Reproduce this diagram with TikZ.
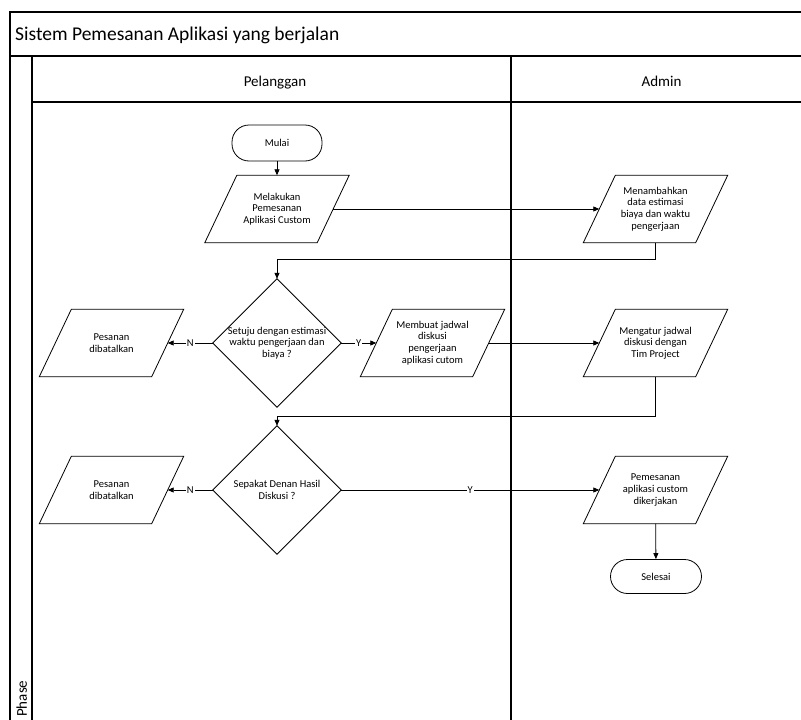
\documentclass[tikz,border=0pt]{standalone}
\usepackage{fontspec}
\setmainfont{Carlito}
\usetikzlibrary{arrows.meta,calc}

\begin{document}
\begin{tikzpicture}[x=1pt,y=-1pt,
  frame/.style={line width=1.1pt, black},
  outline/.style={line width=0.8pt, black},
  txt/.style={font=\fontsize{10.5}{11.7}\selectfont, align=center},
  parabox/.style={txt, minimum width=112pt, minimum height=67pt, inner sep=0pt},
  decbox/.style={txt, minimum width=128pt, minimum height=128pt, inner sep=0pt},
  termbox/.style={txt, draw, line width=0.8pt, rounded corners=17pt, minimum width=90pt, minimum height=36pt, inner sep=0pt},
  flow/.style={line width=0.8pt, -{Triangle[length=6pt,width=5pt]}},
  lbl/.style={font=\fontsize{10.5}{12}\selectfont, fill=white, inner sep=1pt},
  headtxt/.style={font=\fontsize{15}{18}\selectfont, inner sep=0pt},
]
\path[use as bounding box] (0,0) rectangle (801,720);
\clip (0,0) rectangle (801,720);

% pool frame, title bar, phase column and lane headers
\draw[frame] (801,12) -- (10,12) -- (10,720);
\draw[frame] (10,56) -- (801,56);
\draw[frame] (32,56) -- (32,720);
\draw[frame] (32,102) -- (801,102);
\draw[frame] (511,56) -- (511,720);

\node[anchor=base west, font=\fontsize{19.5}{22}\selectfont, inner sep=0pt] (title) at (15,40.5) {Sistem Pemesanan Aplikasi yang berjalan};
\node[headtxt, anchor=base] (lane1) at (275,86) {Pelanggan};
\node[headtxt, anchor=base] (lane2) at (661.5,86) {Admin};
\node[headtxt, anchor=base west, rotate=90] (phase) at (27,717) {Phase};

% flowchart steps
\node[termbox] (start) at (277,143) {Mulai};
\node[parabox] (p1) at (277,209) {Melakukan\\Pemesanan\\Aplikasi Custom};
\node[parabox] (a1) at (655.5,209) {Menambahkan\\data estimasi\\biaya dan waktu\\pengerjaan};
\node[decbox] (d1) at (277,343) {Setuju dengan estimasi\\waktu pengerjaan dan\\biaya ?};
\node[parabox] (c1) at (111.5,343) {Pesanan\\dibatalkan};
\node[parabox] (p2) at (432.5,343) {Membuat jadwal\\diskusi\\pengerjaan\\aplikasi cutom};
\node[parabox] (a2) at (655.5,343) {Mengatur jadwal\\diskusi dengan\\Tim Project};
\node[decbox] (d2) at (277,490) {Sepakat Denan Hasil\\Diskusi ?};
\node[parabox] (c2) at (111.5,490) {Pesanan\\dibatalkan};
\node[parabox] (a3) at (655.5,490) {Pemesanan\\aplikasi custom\\dikerjakan};
\node[termbox, minimum width=91pt, minimum height=34pt] (end) at (656,576.5) {Selesai};

% parallelogram outlines
\foreach \n in {p1,a1,c1,p2,a2,c2,a3}
  \draw[outline] ([xshift=-16pt]\n.south west) -- ([xshift=-16pt]\n.south east)
    -- ([xshift=16pt]\n.north east) -- ([xshift=16pt]\n.north west) -- cycle;

% decision outlines
\foreach \n in {d1,d2}
  \draw[outline] (\n.north) -- (\n.east) -- (\n.south) -- (\n.west) -- cycle;

% connectors
\coordinate (j1) at (277,259);
\coordinate (j2) at (277,416);
\draw[flow] (start) -- (p1);
\draw[flow] (p1.east) -- (a1.west);
\draw[flow] (a1.south) |- (j1) -- (d1.north);
\draw[flow] (d1.west) -- node[lbl]{N} (c1.east);
\draw[flow] (d1.east) -- node[lbl]{Y} (p2.west);
\draw[flow] (p2.east) -- (a2.west);
\draw[flow] (a2.south) |- (j2) -- (d2.north);
\draw[flow] (d2.west) -- node[lbl]{N} (c2.east);
\draw[flow] (d2.east) -- node[lbl]{Y} (a3.west);
\draw[flow] (a3) -- (end);
\end{tikzpicture}
\end{document}
